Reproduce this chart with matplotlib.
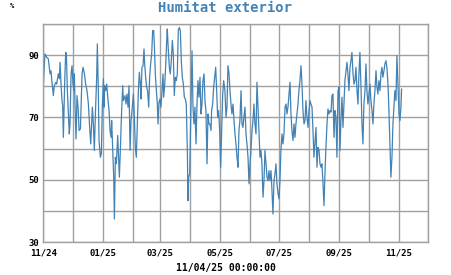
import numpy as np
import pandas as pd
import matplotlib
matplotlib.use('Agg')
import matplotlib.pyplot as plt
import matplotlib.dates as mdates

# days since 2024-11-01 and outside humidity (%)
days = [
    0, 1.7, 3.5, 5.2, 6.9, 7.9, 8.6, 10.3, 11.3, 13.0, 13.7, 15.4, 16.5, 17.2, 18.2, 19.2, 19.9, 20.6,
    21.3, 22.0, 23.0, 23.7, 24.7, 26.1, 26.7, 27.4, 28.5, 29.5, 30.5, 31.5, 31.9, 32.6, 33.6, 34.6,
    35.7, 36.7, 38.1, 38.7, 39.8, 40.8, 42.2, 43.5, 44.9, 46.3, 47.6, 48.7, 50.4, 51.4, 52.4, 53.5,
    54.8, 55.5, 56.5, 57.2, 58.6, 59.6, 60.6, 61.7, 62.4, 63.0, 64.1, 65.1, 66.5, 67.5, 68.5, 69.6,
    70.2, 71.3, 72.3, 73.0, 74.0, 75.0, 76.4, 78.1, 79.1, 80.2, 81.5, 82.2, 83.9, 84.9, 86.0, 87.0,
    88.0, 89.1, 90.1, 91.1, 92.5, 93.5,
    94.5, 95.5, 96.5, 97.6, 98.6, 99.6, 100.3, 101.3, 102.4, 103.4, 104.1, 105.1, 106.1, 107.1,
    108.2, 109.2, 110.2, 111.3, 112.3, 113.3, 114.0, 115.0, 116.1, 117.1, 117.8, 118.8, 119.8,
    120.8, 121.9, 122.9, 123.6, 124.6, 125.6, 126.7, 127.3, 128.4, 129.4, 130.4, 131.4, 132.5,
    133.5, 134.5, 135.5, 136.6, 137.6, 138.6, 139.6, 140.7, 141.7, 142.7, 143.8, 144.8, 145.8,
    146.8, 147.9, 148.6, 149.2, 150.3, 151.3, 152.0, 152.7, 153.7, 154.7, 155.7, 156.8, 157.8,
    158.8, 159.8, 160.9, 161.9, 162.9, 163.9, 165.0, 166.0, 167.0, 168.1, 169.1, 170.1, 171.1,
    172.2, 172.8, 173.9, 174.9, 175.9, 177.0, 178.0, 179.0, 180.0, 181.1, 182.1, 183.1, 184.2, 185.2,
    186.5, 187.6, 188.6, 189.6, 190.7, 191.7, 192.7, 193.7, 194.8, 195.8, 196.8, 197.8, 198.9,
    199.9, 200.9, 201.9, 203.0, 204.0, 205.0, 206.0, 207.1, 208.1, 209.1, 210.2, 211.2, 212.2,
    213.2, 214.3, 215.3, 216.3, 217.3, 218.4, 219.4, 220.4, 221.4, 222.5, 223.5, 224.5, 225.6,
    226.6, 227.6, 228.6, 229.7, 230.7, 231.7, 232.7, 233.8, 234.8, 235.8, 236.9, 237.9, 238.9,
    239.9, 241.0, 242.0, 243.0, 244.0, 245.1, 246.1, 247.1, 248.2, 249.2, 250.2, 251.2, 252.3,
    253.3, 254.3, 255.3, 256.4, 257.4, 258.4, 259.4, 260.5, 261.5, 262.5, 263.5, 264.6, 265.6,
    266.6, 267.7, 268.7, 269.7, 270.7, 271.8, 272.8, 273.8, 274.8, 275.9, 276.9, 277.9,
    280.0, 281.0, 282.0, 283.1, 284.1, 285.1, 286.1, 287.2, 288.2, 289.2, 290.2, 291.3, 292.3,
    293.3, 294.4, 295.4, 296.4, 297.4, 298.5, 299.5, 300.5, 301.5, 302.6, 303.6, 304.6, 305.6,
    306.7, 307.7, 308.7, 309.7, 310.8, 311.8, 312.8, 313.8, 314.9, 315.9, 316.9, 318.0, 319.0,
    320.0, 321.0, 322.1, 323.1, 324.1, 325.1, 326.2, 327.2, 328.2, 329.2, 330.3, 331.3, 332.3,
    333.3, 334.4, 335.4, 336.4, 337.5, 338.5, 339.5, 340.5, 341.6, 342.6, 343.6, 344.6, 345.7,
    346.7, 347.7, 348.7, 349.8, 350.8, 351.8, 352.8, 353.9, 354.9, 355.9, 356.9, 358.0, 359.0,
    360.0, 361.0, 362.1, 363.1, 364.1, 365.2, 366.2, 367.2, 367.9,
]
humidity = [
    80.2, 90.4, 89.3, 88.8, 84.0, 85.0, 82.4, 77.0, 80.2, 81.3, 80.7, 84.0, 82.4, 87.7, 80.7, 75.4, 73.8, 63.6,
    73.3, 81.8, 90.9, 90.4, 78.6, 69.0, 64.7, 67.9, 84.0, 86.6, 80.7, 78.6, 84.0, 73.3, 63.1, 77.0,
    73.3, 65.8, 66.3, 72.2, 84.0, 86.1, 84.0, 80.7, 78.6, 74.3, 66.8, 61.5, 73.3, 67.9, 59.4, 71.1,
    82.9, 93.6, 78.6, 62.6, 57.2, 58.3, 73.3, 82.4, 73.3, 80.2, 78.6, 80.7, 75.4, 72.2, 65.8, 63.6,
    69.0, 59.4, 50.8, 37.4, 57.2, 55.1, 64.2, 50.8, 59.4, 70.1, 80.2, 75.4, 77.0, 74.3, 77.5, 73.3,
    80.2, 59.4, 69.0, 72.2, 77.5, 70.1,
    60.4, 57.2, 67.9, 78.6, 84.5, 80.7, 75.9, 86.1, 86.6, 92.0, 87.2, 82.9, 79.7, 78.6,
    73.3, 82.9, 87.2, 90.4, 97.9, 97.9, 93.6, 84.0, 78.6, 74.3, 67.9, 74.9, 75.9,
    73.3, 78.6, 84.0, 76.5, 80.2, 86.1, 94.7, 98.4, 91.4, 86.1, 84.0, 88.2, 94.7,
    90.4, 77.0, 82.9, 81.8, 84.0, 97.9, 98.9, 97.9, 88.2, 82.9, 80.7, 76.5, 75.9,
    74.3, 59.4, 43.3, 50.8, 51.9, 67.9, 80.7, 91.4, 73.3, 67.9, 73.3, 61.5, 74.3,
    81.8, 76.5, 82.9, 71.1, 74.3, 81.8, 84.0, 75.4, 72.2, 55.1, 71.1, 67.9, 67.9,
    65.8, 72.2, 74.3, 79.7, 82.9, 86.1, 78.6, 70.1, 72.2, 65.8, 54.0, 65.8, 77.5, 81.8,
    78.6, 70.1, 73.3, 86.6, 84.0, 78.6, 74.3, 71.1, 74.3, 69.0, 64.7, 61.5, 57.2,
    54.0, 65.8, 69.0, 78.6, 67.9, 66.8, 70.1, 73.3, 64.7, 61.5, 57.2, 48.7, 55.1,
    59.4, 65.8, 69.0, 74.3, 67.9, 64.7, 81.3, 73.3, 65.8, 57.2, 59.4, 55.1, 44.4,
    49.7, 59.4, 55.1, 50.8, 49.7, 52.9, 49.7, 52.9, 46.5, 39.0, 49.7, 51.9, 55.1,
    48.7, 45.5, 43.9, 49.7, 59.4, 64.7, 61.5, 64.7, 73.3, 74.3, 71.1, 73.3, 77.5,
    81.3, 71.1, 65.8, 62.6, 67.9, 63.6, 67.9, 71.1, 74.3, 78.6, 81.8, 86.6, 80.7,
    72.2, 67.9, 69.0, 75.4, 70.1, 66.8, 72.2, 75.4, 74.3, 73.3, 65.8, 57.2,
    66.8, 54.0, 60.4, 59.4, 55.1, 54.0, 55.1, 48.7, 41.7, 51.9, 60.4, 67.9, 72.7,
    71.1, 72.2, 71.7, 77.0, 77.5, 63.6, 72.2, 70.1, 57.2, 78.6, 79.7, 59.4, 69.0,
    76.5, 66.8, 74.3, 81.8, 85.0, 87.7, 84.0, 78.6, 86.1, 88.2, 90.9, 84.0, 80.7,
    81.8, 86.1, 78.6, 74.3, 84.0, 90.9, 79.7, 67.9, 61.5, 74.3, 78.6, 87.2, 78.6,
    74.3, 77.5, 80.7, 75.4, 72.2, 67.9, 74.3, 78.6, 85.0, 79.7, 77.5, 81.8, 78.6,
    84.0, 86.1, 82.9, 85.0, 87.2, 88.2, 86.1, 80.7, 72.2, 61.5, 50.8, 57.2, 67.9,
    73.3, 78.6, 75.4, 89.8, 80.7, 71.1, 69.0, 73.3, 79.1,
]

start = pd.Timestamp('2024-11-01')
end = pd.Timestamp('2025-12-01')
times = start + pd.to_timedelta(days, unit='D')

line_color = '#4282b4'
grid_color = '#a0a0a0'
mono = 'DejaVu Sans Mono'

fig = plt.figure(figsize=(4.51, 2.75), dpi=100)
ax = fig.add_axes([43.3 / 451, 33 / 275, (428 - 43.3) / 451, 218 / 275])

ax.plot(times, humidity, color=line_color, linewidth=0.9)

ax.set_xlim(start, end)
ax.set_ylim(30, 100)

ax.set_yticks([30, 50, 70, 90])
ax.set_yticks([40, 60, 80, 100], minor=True)
ax.xaxis.set_major_locator(mdates.MonthLocator(bymonth=[1, 3, 5, 7, 9, 11]))
ax.xaxis.set_minor_locator(mdates.MonthLocator())
ax.xaxis.set_major_formatter(mdates.DateFormatter('%m/%y'))

ax.grid(True, which='both', color=grid_color, linewidth=1)
ax.set_axisbelow(True)
for sp in ax.spines.values():
    sp.set_color(grid_color)
    sp.set_linewidth(1)
ax.tick_params(which='both', length=0)
ax.tick_params(axis='x', pad=4.5)
ax.tick_params(axis='y', pad=3)
for lab in ax.get_xticklabels() + ax.get_yticklabels():
    lab.set_fontfamily(mono)
    lab.set_fontweight('bold')
    lab.set_fontsize(6.5)

fig.text(0.5, 0.97, 'Humitat exterior', ha='center', va='center', color=line_color,
         family=mono, fontweight='bold', fontsize=10)
fig.text(12 / 451, 1 - 6 / 275, '%', ha='center', va='center', family=mono,
         fontweight='bold', fontsize=5)
fig.text(0.5, 1 - 268 / 275, '11/04/25 00:00:00', ha='center', va='center',
         family=mono, fontweight='bold', fontsize=7)

fig.savefig('out.png', dpi=100)
